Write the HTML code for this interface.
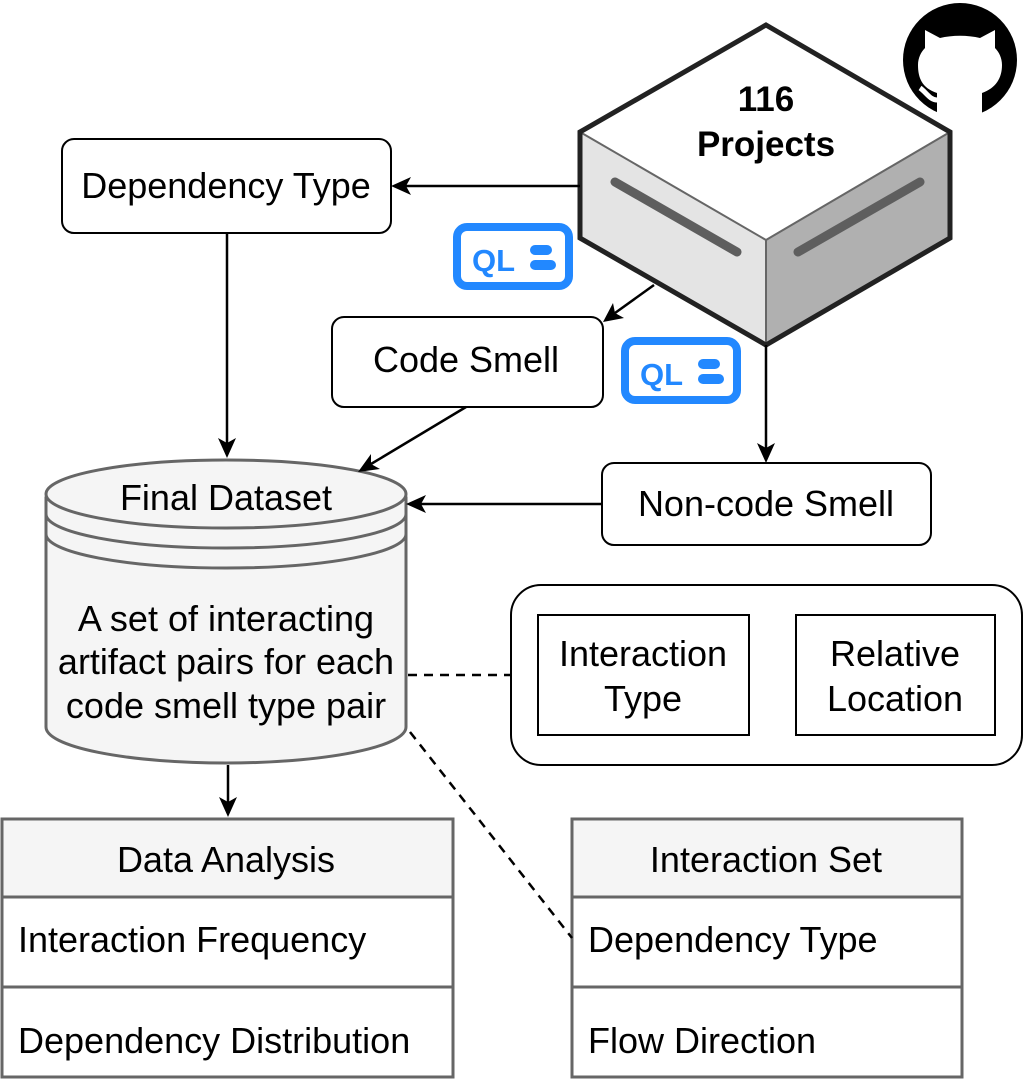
<!DOCTYPE html>
<html><head><style>
html,body{margin:0;padding:0;background:#fff;}
svg{display:block;font-family:"Liberation Sans",Arial,sans-serif;}
text{font-family:"Liberation Sans",Arial,sans-serif;fill:#000;font-size:36px;}
</style></head><body>
<svg width="1026" height="1086" viewBox="0 0 1026 1086" xmlns="http://www.w3.org/2000/svg">
<!-- cube -->
<polygon points="580,132 766,240 766,345 580,238" fill="#e4e4e4"/>
<polygon points="766,240 950,132 950,238 766,345" fill="#b0b0b0"/>
<polygon points="766,25 950,132 766,240 580,132" fill="#fff"/>
<line x1="580" y1="132" x2="766" y2="240" stroke="#666" stroke-width="2"/>
<line x1="950" y1="132" x2="766" y2="240" stroke="#666" stroke-width="2"/>
<line x1="766" y1="240" x2="766" y2="345" stroke="#666" stroke-width="2"/>
<polygon points="766,25 950,132 950,238 766,345 580,238 580,132" fill="none" stroke="#222" stroke-width="5"/>
<line x1="615" y1="182" x2="737" y2="252" stroke="#5e5e5e" stroke-width="9" stroke-linecap="round"/>
<line x1="798" y1="252" x2="920" y2="182" stroke="#5e5e5e" stroke-width="9" stroke-linecap="round"/>
<text x="766" y="111" text-anchor="middle" style="font-size:35px;font-weight:bold">116</text>
<text x="766" y="156" text-anchor="middle" style="font-size:35px;font-weight:bold">Projects</text>
<!-- github -->
<circle cx="960" cy="60" r="57" fill="#000"/>
<path d="M937,117 L937,93 C922,88 918,78 918,65 C918,58 921,52 925,48 L925,30 L940,38 C952,35 968,35 980,38 L995,30 L995,48 C999,52 1002,58 1002,65 C1002,78 996,88 982,93 L982,117 Z" fill="#fff"/>
<path d="M937,100 C930,100 926,92 920,88" stroke="#fff" stroke-width="5" fill="none"/>
<!-- QL icons -->
<rect x="457" y="227" width="112" height="59" rx="10" fill="#fff" stroke="#2288ff" stroke-width="8"/>
<text x="472" y="271" style="font-size:31px;font-weight:bold;fill:#2288ff">QL</text>
<rect x="530" y="245" width="22" height="10" rx="5" fill="#2288ff"/>
<rect x="530" y="260" width="26" height="10" rx="5" fill="#2288ff"/>
<rect x="625" y="341" width="112" height="59" rx="10" fill="#fff" stroke="#2288ff" stroke-width="8"/>
<text x="640" y="385" style="font-size:31px;font-weight:bold;fill:#2288ff">QL</text>
<rect x="698" y="359" width="22" height="10" rx="5" fill="#2288ff"/>
<rect x="698" y="374" width="26" height="10" rx="5" fill="#2288ff"/>
<!-- boxes -->
<rect x="62" y="139" width="329" height="94" rx="12" fill="#fff" stroke="#000" stroke-width="2"/>
<text x="226" y="198" text-anchor="middle">Dependency Type</text>
<rect x="332" y="317" width="271" height="90" rx="12" fill="#fff" stroke="#000" stroke-width="2"/>
<text x="466" y="372" text-anchor="middle">Code Smell</text>
<rect x="602" y="463" width="329" height="82" rx="12" fill="#fff" stroke="#000" stroke-width="2"/>
<text x="766" y="516" text-anchor="middle">Non-code Smell</text>
<rect x="511" y="585" width="511" height="180" rx="30" fill="#fff" stroke="#000" stroke-width="2"/>
<rect x="538" y="615" width="211" height="120" fill="#fff" stroke="#000" stroke-width="2"/>
<text x="643" y="666" text-anchor="middle">Interaction</text>
<text x="643" y="711" text-anchor="middle">Type</text>
<rect x="796" y="615" width="199" height="120" fill="#fff" stroke="#000" stroke-width="2"/>
<text x="895" y="666" text-anchor="middle">Relative</text>
<text x="895" y="711" text-anchor="middle">Location</text>
<!-- cylinder -->
<path d="M46,498 L46,727 A180,36 0 0 0 406,727 L406,498 Z" fill="#f5f5f5" stroke="#666" stroke-width="3"/>
<ellipse cx="226" cy="494" rx="180" ry="34" fill="#f5f5f5" stroke="#666" stroke-width="3"/>
<path d="M46,514 A180,34 0 0 0 406,514" fill="none" stroke="#666" stroke-width="3"/>
<path d="M46,534 A180,34 0 0 0 406,534" fill="none" stroke="#666" stroke-width="3"/>
<text x="226" y="510" text-anchor="middle">Final Dataset</text>
<text x="226" y="631" text-anchor="middle">A set of interacting</text>
<text x="226" y="674" text-anchor="middle">artifact pairs for each</text>
<text x="226" y="718" text-anchor="middle">code smell type pair</text>
<!-- tables -->
<rect x="2" y="819" width="451" height="78" fill="#f5f5f5" stroke="#666" stroke-width="3"/>
<rect x="2" y="897" width="451" height="90" fill="#fff" stroke="#666" stroke-width="3"/>
<rect x="2" y="987" width="451" height="90" fill="#fff" stroke="#666" stroke-width="3"/>
<text x="226" y="872" text-anchor="middle">Data Analysis</text>
<text x="18" y="952">Interaction Frequency</text>
<text x="18" y="1053">Dependency Distribution</text>
<rect x="572" y="819" width="390" height="78" fill="#f5f5f5" stroke="#666" stroke-width="3"/>
<rect x="572" y="897" width="390" height="90" fill="#fff" stroke="#666" stroke-width="3"/>
<rect x="572" y="987" width="390" height="90" fill="#fff" stroke="#666" stroke-width="3"/>
<text x="766" y="872" text-anchor="middle">Interaction Set</text>
<text x="588" y="952">Dependency Type</text>
<text x="588" y="1053">Flow Direction</text>
<!-- connectors -->
<g stroke="#000" stroke-width="2.5" fill="none">
<line x1="580" y1="186" x2="405" y2="186"/>
<line x1="227" y1="233" x2="227" y2="444"/>
<line x1="654" y1="285" x2="615" y2="313"/>
<line x1="466" y1="407" x2="371" y2="464"/>
<line x1="766" y1="345" x2="766" y2="449"/>
<line x1="602" y1="504" x2="420" y2="504"/>
<line x1="228" y1="765" x2="228" y2="803"/>
<line x1="408" y1="675" x2="511" y2="675" stroke-dasharray="9,7"/>
<line x1="410" y1="732" x2="572" y2="938" stroke-dasharray="9,7"/>
</g>
<g fill="#000">
<polygon points="391,186 411,177 406,186 411,195"/>
<polygon points="227,458 218,438 227,443 236,438"/>
<polygon points="603,322 613,303 615,313 624,318"/>
<polygon points="358,472 371,454 371,464 380,469"/>
<polygon points="766,463 757,443 766,448 775,443"/>
<polygon points="406,504 426,495 421,504 426,513"/>
<polygon points="228,817 219,797 228,802 237,797"/>
</g>
</svg>
</body></html>
